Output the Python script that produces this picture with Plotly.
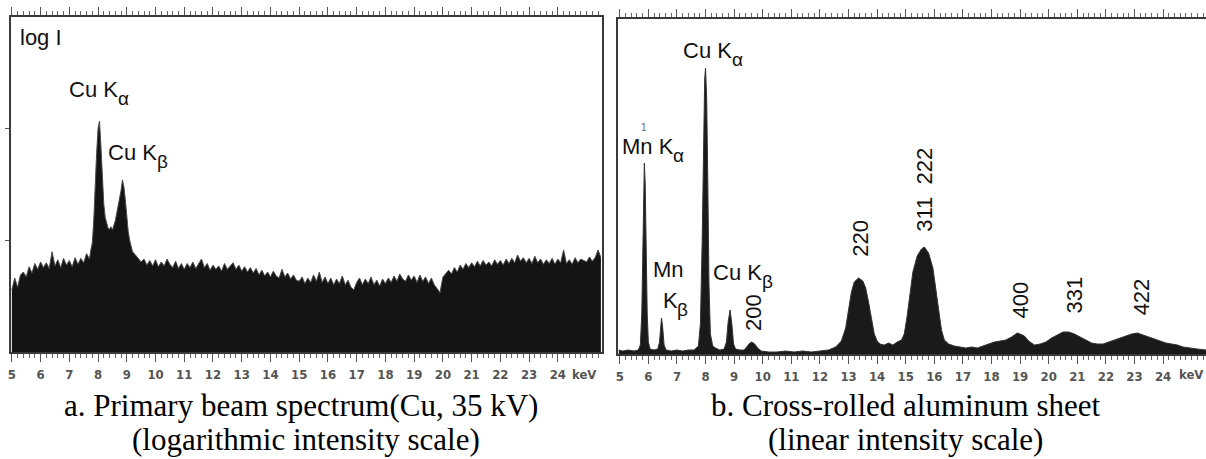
import plotly.graph_objects as go

# ---------------- data: panel a (log intensity, primary beam Cu 35 kV) ----------------
energy_a = [5.0, 5.1, 5.2, 5.3, 5.4, 5.5, 5.6, 5.7, 5.8, 5.9, 6.0, 6.1, 6.2, 6.3, 6.4, 6.5, 6.6, 6.7, 6.8, 6.9,
            7.0, 7.1, 7.2, 7.3, 7.4, 7.5, 7.6, 7.7, 7.75, 7.8, 7.85, 7.9, 7.95, 8.0, 8.05, 8.1, 8.15, 8.2, 8.25,
            8.3, 8.35, 8.4, 8.45, 8.5, 8.55, 8.6, 8.65, 8.7, 8.75, 8.8, 8.85, 8.9, 8.95, 9.0, 9.05, 9.1, 9.15,
            9.2, 9.3, 9.4, 9.5, 9.6, 9.7, 9.8, 9.9, 10.0, 10.1, 10.2, 10.3, 10.4, 10.5, 10.6, 10.7, 10.8, 10.9,
            11.0, 11.1, 11.2, 11.3, 11.4, 11.5, 11.6, 11.7, 11.8, 11.9, 12.0, 12.1, 12.2, 12.3, 12.4, 12.5, 12.6,
            12.7, 12.8, 12.9, 13.0, 13.1, 13.2, 13.3, 13.4, 13.5, 13.6, 13.7, 13.8, 13.9, 14.0, 14.1, 14.2, 14.3,
            14.4, 14.5, 14.6, 14.7, 14.8, 14.9, 15.0, 15.1, 15.2, 15.3, 15.4, 15.5, 15.6, 15.7, 15.8, 15.9, 16.0,
            16.1, 16.2, 16.3, 16.4, 16.5, 16.6, 16.7, 16.8, 16.9, 17.0, 17.1, 17.2, 17.3, 17.4, 17.5, 17.6, 17.7,
            17.8, 17.9, 18.0, 18.1, 18.2, 18.3, 18.4, 18.5, 18.6, 18.7, 18.8, 18.9, 19.0, 19.1, 19.2, 19.3, 19.4,
            19.5, 19.6, 19.7, 19.8, 19.9, 20.0, 20.1, 20.2, 20.3, 20.4, 20.5, 20.6, 20.7, 20.8, 20.9, 21.0, 21.1,
            21.2, 21.3, 21.4, 21.5, 21.6, 21.7, 21.8, 21.9, 22.0, 22.1, 22.2, 22.3, 22.4, 22.5, 22.6, 22.7, 22.8,
            22.9, 23.0, 23.1, 23.2, 23.3, 23.4, 23.5, 23.6, 23.7, 23.8, 23.9, 24.0, 24.1, 24.2, 24.3, 24.4, 24.5,
            24.6, 24.7, 24.8, 24.9, 25.0, 25.1, 25.2, 25.3, 25.4, 25.5]
counts_a = [36, 46, 38, 49, 52, 47, 58, 51, 62, 55, 64, 57, 63, 56, 79, 59, 67, 57, 69, 60,
            66, 58, 70, 61, 69, 63, 76, 68,
            82, 95, 150, 330, 600, 1000, 1170, 700, 380, 210, 160, 140, 128, 126, 132, 124, 135,
            150, 175, 200, 235, 280, 348, 300, 230, 160, 120, 100, 88, 79,
            74, 69, 64, 68, 60, 66, 59,
            67, 58, 64, 59, 68, 61, 57, 65, 56, 62,
            55, 62, 57, 64, 56, 61, 68, 57, 62, 54,
            60, 55, 59, 53, 62, 55, 59, 63, 55, 60,
            53, 58, 52, 57, 51, 56, 49, 54, 48, 52,
            47, 53, 48, 46, 55, 47, 51, 45, 49, 44,
            43, 47, 41, 46, 42, 49, 43, 52, 42, 47,
            41, 46, 40, 45, 41, 48, 40, 44, 38, 36,
            42, 46, 40, 45, 41, 47, 40, 44, 39, 45,
            41, 46, 42, 48, 43, 50, 45, 43, 49, 44,
            48, 42, 49, 43, 47, 41, 46, 40, 37, 34,
            47, 51, 54, 50, 57, 52, 60, 55, 62, 57,
            63, 58, 65, 59, 66, 60, 64, 59, 67, 61,
            66, 60, 68, 62, 69, 63, 74, 65, 70, 63,
            69, 62, 72, 63, 68, 61, 67, 62, 69, 61,
            68, 63, 82, 62, 67, 61, 70, 63, 68, 66,
            64, 71, 65, 70, 82, 70]

# ---------------- data: panel b (linear intensity, cross-rolled Al sheet) ----------------
energy_b = [4.96, 5.1, 5.3, 5.5, 5.65, 5.72, 5.77, 5.81, 5.84, 5.86, 5.89, 5.92, 5.96, 6.0, 6.06, 6.2, 6.33,
            6.39, 6.43, 6.46, 6.5, 6.55, 6.62, 6.8, 7.0, 7.2, 7.4, 7.6, 7.75, 7.82, 7.88, 7.93, 7.97, 8.0,
            8.04, 8.08, 8.12, 8.17, 8.25, 8.35, 8.5, 8.65, 8.73, 8.79, 8.86, 8.92, 8.98, 9.05, 9.2, 9.35,
            9.45, 9.55, 9.62, 9.72, 9.82, 9.95, 10.2, 10.5, 10.8, 11.1, 11.4, 11.7, 12.0, 12.3, 12.55, 12.75,
            12.9, 13.0, 13.1, 13.2, 13.35, 13.5, 13.6, 13.7, 13.8, 13.9, 14.0, 14.1, 14.25, 14.4, 14.55, 14.7,
            14.85, 14.95, 15.05, 15.15, 15.25, 15.4, 15.55, 15.65, 15.8, 15.95, 16.05, 16.15, 16.25, 16.35,
            16.5, 16.7, 16.9, 17.1, 17.3, 17.5, 17.7, 17.9, 18.1, 18.3, 18.5, 18.7, 18.9, 19.0, 19.15, 19.3,
            19.5, 19.7, 19.9, 20.1, 20.3, 20.5, 20.7, 20.9, 21.1, 21.3, 21.5, 21.7, 21.9, 22.1, 22.3, 22.5,
            22.7, 22.9, 23.1, 23.3, 23.5, 23.7, 23.9, 24.1, 24.3, 24.5, 24.7, 24.9, 25.2, 25.5]
counts_b = [4, 3, 4, 3, 4, 9, 40, 120, 178, 191, 170, 110, 40, 12, 5, 4, 5,
            12, 30, 36, 27, 9, 4, 3, 4, 3, 4, 4, 8, 30, 110, 220, 275, 286,
            255, 170, 70, 20, 8, 6, 4, 5, 12, 32, 44, 30, 10, 5, 4, 4,
            8, 11, 12, 10, 6, 3, 2, 2, 3, 2, 3, 2, 3, 4, 7, 13,
            26, 45, 62, 72, 76, 73, 66, 52, 34, 20, 13, 10, 9, 11, 9, 12,
            14, 20, 38, 62, 82, 98, 105, 107, 101, 86, 66, 44, 24, 14,
            10, 8, 7, 6, 7, 6, 8, 10, 12, 13, 14, 17, 21, 20, 18, 13,
            9, 10, 12, 16, 19, 22, 22, 20, 17, 14, 11, 10, 10, 12, 14, 16,
            18, 20, 21, 19, 17, 15, 13, 11, 10, 9, 7, 6, 5, 4]

tick_kev = [5, 6, 7, 8, 9, 10, 11, 12, 13, 14, 15, 16, 17, 18, 19, 20, 21, 22, 23, 24]
tick_text = [str(t) for t in tick_kev]
log_ticks = [100, 1000]

W, H = 1206, 459
SANS = "Liberation Sans, Arial, sans-serif"
TICKFONT = dict(family="Liberation Sans Narrow, DejaVu Sans Condensed, Liberation Sans", size=13,
                color="#555555", weight="bold")
SERIF = "Liberation Serif, Times New Roman, serif"

fig = go.Figure()
fig.add_trace(go.Scatter(x=energy_a, y=counts_a, mode="lines", fill="tozeroy",
                         line=dict(color="#4a4a4a", width=1), fillcolor="#141414",
                         xaxis="x", yaxis="y", showlegend=False, hoverinfo="skip"))
fig.add_trace(go.Scatter(x=energy_b, y=counts_b, mode="lines", fill="tozeroy",
                         line=dict(color="#333333", width=1), fillcolor="#1a1a1a",
                         xaxis="x2", yaxis="y2", showlegend=False, hoverinfo="skip"))

def xaxis_style(domain, rng, anchor):
    return dict(domain=domain, range=rng, anchor=anchor, showline=True, linecolor="#3a3a3a",
                linewidth=2, mirror="allticks", ticks="outside", ticklen=8, tickwidth=1,
                tickcolor="#555555", tickmode="array", tickvals=tick_kev, ticktext=tick_text,
                tickfont=TICKFONT, ticklabelstandoff=1,
                minor=dict(tickmode="linear", tick0=5, dtick=0.2, ticks="outside", ticklen=4,
                           tickcolor="#666666", tickwidth=1, showgrid=False),
                showgrid=False, zeroline=False, fixedrange=True)

fig.update_layout(
    width=W, height=H, margin=dict(l=0, r=0, t=0, b=0),
    paper_bgcolor="white", plot_bgcolor="white",
    xaxis=xaxis_style([8 / W, 600 / W], [4.97, 25.52], "y"),
    yaxis=dict(domain=[1 - 352 / H, 1 - 17 / H], type="log", range=[1, 4], anchor="x",
               showline=True, linecolor="#3a3a3a", linewidth=2, mirror=True,
               ticks="outside", ticklen=4, tickcolor="#555555", tickmode="array",
               tickvals=log_ticks, showticklabels=False, showgrid=False, zeroline=False,
               fixedrange=True),
    xaxis2=xaxis_style([617 / W, 1.0], [4.955, 25.5], "y2"),
    yaxis2=dict(domain=[1 - 354 / H, 1 - 19 / H], range=[0, 335], anchor="x2",
                showline=True, linecolor="#3a3a3a", linewidth=2, mirror=False,
                ticks="", showticklabels=False, showgrid=False, zeroline=False, fixedrange=True),
)

LBL = dict(family=SANS, size=22, color="#111111")
SUB = dict(family=SANS, size=19, color="#111111")
ann = []


def label(x, y, xr, yr, main, sub=None, main_w=0.0):
    ann.append(dict(x=x, y=y, xref=xr, yref=yr, text=main, xanchor="left", yanchor="middle",
                    showarrow=False, font=LBL))
    if sub:
        ann.append(dict(x=x, y=y, xref=xr, yref=yr, text=sub, xanchor="left", yanchor="middle",
                        xshift=main_w, yshift=-9, showarrow=False, font=SUB))


# panel a labels (log axis -> y given as log10)
label(5.22, 3.82, "x", "y", "log I")
label(6.92, 3.355, "x", "y", "Cu K", "α", 48.9)
label(8.28, 2.79, "x", "y", "Cu K", "β", 48.9)
# panel b labels
label(7.13, 304, "x2", "y2", "Cu K", "α", 48.9)
label(5.0, 208, "x2", "y2", "Mn K", "α", 51.3)
label(6.08, 85, "x2", "y2", "Mn")
label(6.43, 54, "x2", "y2", "K", "β", 14.7)
label(8.18, 82, "x2", "y2", "Cu K", "β", 48.9)
ann.append(dict(x=5.86, y=227, xref="x2", yref="y2", text="1", xanchor="center",
                yanchor="middle", showarrow=False, font=dict(family=SANS, size=10, color="#666666")))
for xx, yy, tt in [(9.66, 41, "200"), (13.39, 116, "220"), (15.63, 164, "311  222"),
                   (18.98, 54, "400"), (20.9, 59, "331"), (23.24, 57, "422")]:
    ann.append(dict(x=xx, y=yy, xref="x2", yref="y2", text=tt, textangle=-90, xanchor="center",
                    yanchor="middle", showarrow=False, font=LBL))
# keV unit labels
ann.append(dict(x=24.9, y=1 - 374 / H, xref="x", yref="paper", text="keV", xanchor="center",
                yanchor="middle", showarrow=False, font=TICKFONT))
ann.append(dict(x=25.47, y=1 - 374 / H, xref="x2", yref="paper", text="keV", xanchor="right",
                yanchor="middle", showarrow=False, font=TICKFONT))
# captions
CAP = dict(family=SERIF, size=31, color="#000000")
for xc, y1, t in [(299, 405, "a. Primary beam spectrum(Cu, 35 kV)"),
                  (304, 439, "(logarithmic intensity scale)"),
                  (905, 405, "b. Cross-rolled aluminum sheet"),
                  (905, 439, "(linear intensity scale)")]:
    ann.append(dict(x=xc / W, y=1 - y1 / H, xref="paper", yref="paper", text=t, xanchor="center",
                    yanchor="middle", showarrow=False, font=CAP))
fig.update_layout(annotations=ann)

fig.write_html("out.html", config={"displayModeBar": False},
               post_script="document.body.style.margin='0';document.body.style.overflow='hidden';")
